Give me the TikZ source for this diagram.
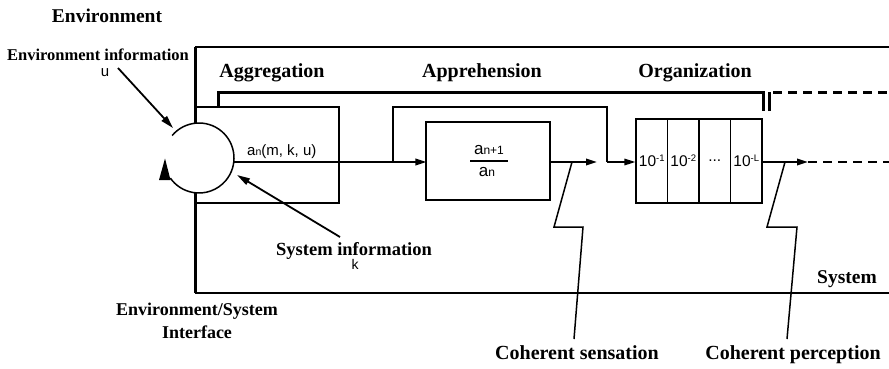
\documentclass[tikz,border=0pt]{standalone}
\usepackage{fontspec}
\setmainfont{Liberation Serif}
\newfontfamily\helv{Liberation Sans}
\usetikzlibrary{arrows.meta}

% small indices in the sans labels: kept on the baseline, or raised
\newcommand\lowidx[1]{{\fontsize{10.5}{10.5}\selectfont #1}}
\newcommand\bigidx[1]{{\fontsize{12}{12}\selectfont #1}}
\newcommand\highidx[1]{\raisebox{4.5pt}{\fontsize{9.5}{9.5}\selectfont #1}}

\begin{document}
\begin{tikzpicture}[x=1pt,y=-1pt,
  lab/.style={font=\bfseries\fontsize{#1}{#1}\selectfont, inner sep=0pt, anchor=base},
  sans/.style={font=\helv\fontsize{15}{15}\selectfont, inner sep=0pt},
  ratio/.style={font=\helv\fontsize{17}{17}\selectfont, inner sep=0pt, anchor=base},
  box/.style={draw, line width=1.3pt, inner sep=0pt},
  cell/.style={draw, line width=1.1pt, inner sep=0pt, minimum width=31.5pt, minimum height=84pt,
               font=\helv\fontsize{15.5}{15.5}\selectfont},
  sig/.style={line width=2pt},
  tip/.style={-{Triangle[length=11pt,width=6.5pt]}},
  ptr/.style={line width=1.8pt, -{Triangle[length=13pt,width=7pt]}},
  leader/.style={line width=1.5pt, line join=miter},
  brk/.style={line width=3pt, line join=miter},
  dashline/.style={dash pattern=on 9pt off 6pt},
]
\useasboundingbox (0,0) rectangle (889,368);

% ---- system frame ----
\coordinate (ftl) at (195,47);
\coordinate (ftr) at (889,47);
\coordinate (fbl) at (195,293);
\coordinate (fbr) at (889,293);
\coordinate (cctr) at (199,158);
\coordinate (ctop) at (195,123.2);
\coordinate (cbot) at (195,192.8);
\draw[line width=1.2pt] (ftl) -- (ftr);
\draw[line width=3pt] (ftl) -- (ctop);
\draw[line width=3pt] (cbot) -- (fbl);
\draw[line width=1.5pt] (fbl) -- (fbr);

% ---- stage boxes ----
\node[box, minimum width=144pt, minimum height=96pt] (agg) at (267,155) {};
\node[box, minimum width=124pt, minimum height=78pt] (app) at (488,161) {};
\node[cell] (c1) at (651.75,161) {10\highidx{-1}};
\node[cell] (c2) at (683.25,161) {10\highidx{-2}};
\node[cell] (c3) at (714.75,161) {...};
\node[cell] (c4) at (746.25,161) {10\highidx{-L}};

% ratio inside the apprehension box
\node[ratio] (num) at (489,154) {a\bigidx{n+1}};
\node[ratio] (den) at (487,176) {a\bigidx{n}};
\draw[line width=1.5pt] (470,161) -- (508,161);

% ---- bracket over the stages ----
\coordinate (b1) at (218,107);
\coordinate (b2) at (763,92);
\coordinate (b3) at (763,111);
\coordinate (d1) at (769,111);
\coordinate (d2) at (769,92);
\coordinate (d3) at (889,92);
\draw[brk] (b1) |- (b2) -- (b3);
\draw[brk] (d1) -- (d2);
\draw[brk, dashline] ([xshift=4pt]d2) -- (d3);

% ---- interface loop (blanks out the box edge inside it) ----
\fill[white] (cctr) circle[radius=35];
\draw[line width=1.5pt] (cctr) ++(-140:35) arc[start angle=-140, end angle=145, radius=35];
\fill (165,158.5) -- (159,180) -- (170.5,180) -- cycle;

% ---- signal path ----
\coordinate (cout) at (234,162);
\coordinate (split) at (393,162);
\coordinate (appin) at (426.4,162);
\coordinate (bu1) at (393,107);
\coordinate (bu2) at (607,107);
\coordinate (bu3) at (607,162);
\coordinate (orgin) at (635.4,162);
\coordinate (appout) at (550,162);
\coordinate (sensetip) at (597,162);
\coordinate (orgout) at (762,162);
\coordinate (perctip) at (808,162);
\coordinate (sigend) at (889,162);

\draw[sig, tip] (cout) -- (appin);
\draw[line width=1.6pt, line join=miter] (split) -- (bu1) -- (bu2) -- (bu3);
\draw[line width=1.6pt, tip] (bu3) -- (orgin);
\draw[sig, tip] (appout) -- (sensetip);
\draw[sig, tip] (orgout) -- (perctip);
\draw[sig, dashline] (perctip) -- (sigend);

\node[sans, anchor=base west] (an) at (247,155) {a\lowidx{n}(m, k, u)};

% ---- labels ----
\node[lab=19.5] (env) at (107,22) {Environment};
\node[lab=16.5] (envinfo) at (98,60) {Environment information};
\node[sans, anchor=base] (u) at (105,76) {u};
\node[lab=20] (aggl) at (272,77) {Aggregation};
\node[lab=20] (appl) at (482,77) {Apprehension};
\node[lab=20] (orgl) at (695,77) {Organization};
\node[lab=18.5] (sysinfo) at (354,255) {System information};
\node[sans, anchor=base, font=\helv\fontsize{14}{14}\selectfont] (k) at (355,269) {k};
\node[lab=18] (esi1) at (197,315) {Environment/System};
\node[lab=18] (esi2) at (197,338) {Interface};
\node[lab=19.5] (sys) at (847,283) {System};
\node[lab=20] (cs) at (577,359) {Coherent sensation};
\node[lab=20] (cp) at (793,359) {Coherent perception};

% ---- pointers into the loop ----
\coordinate (ufrom) at (118,68);
\coordinate (uto) at (173,128);
\coordinate (kfrom) at (340,237);
\coordinate (kto) at (237,175);
\draw[ptr] (ufrom) -- (uto);
\draw[ptr] (kfrom) -- (kto);

% ---- leaders for the coherent outputs ----
\coordinate (s0) at (572,162);
\coordinate (s1) at (554,227);
\coordinate (s2) at (583,227);
\coordinate (s3) at (574,339);
\coordinate (p0) at (785,162);
\coordinate (p1) at (767,227);
\coordinate (p2) at (797,227);
\coordinate (p3) at (787,339);
\draw[leader] (s0) -- (s1) -- (s2) -- (s3);
\draw[leader] (p0) -- (p1) -- (p2) -- (p3);
\end{tikzpicture}
\end{document}
